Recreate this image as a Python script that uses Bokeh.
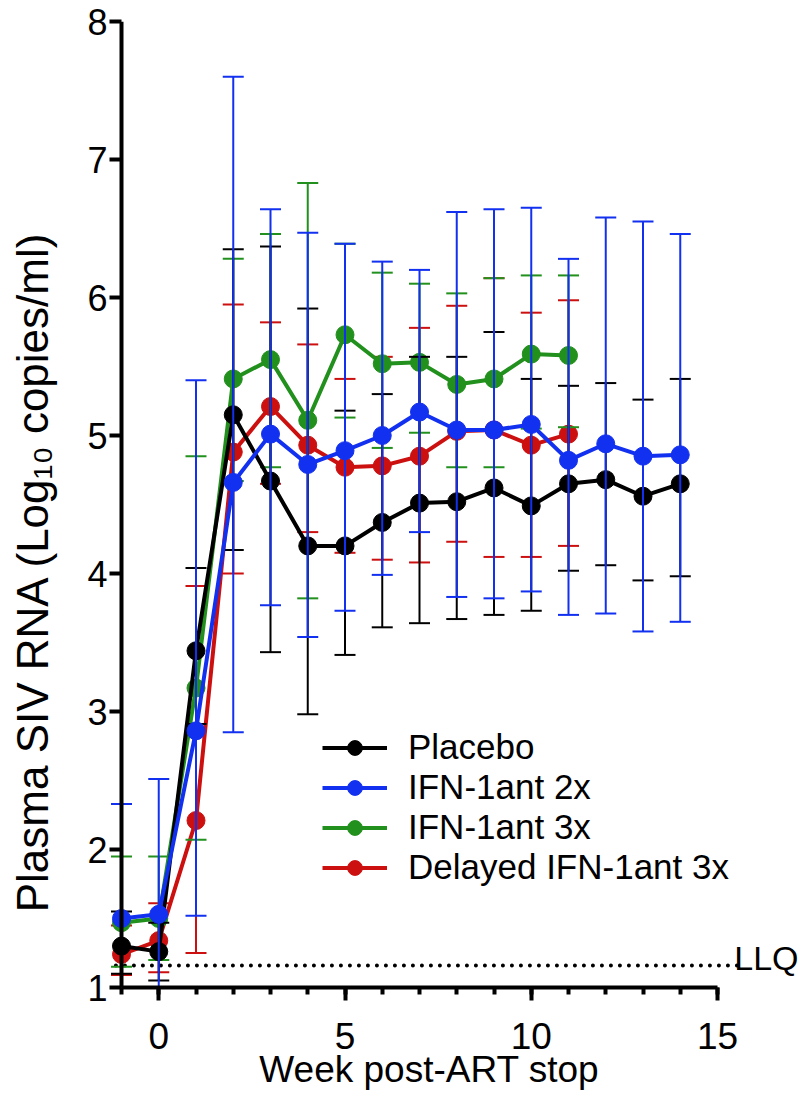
from bokeh.plotting import figure
from bokeh.models import (Range1d, FixedTicker, Span, Label, Legend, LegendItem,
                          ColumnDataSource, LinearAxis)
from bokeh.embed import file_html
from bokeh.resources import INLINE

# ---------------- data ----------------
weeks_all = [-1, 0, 1, 2, 3, 4, 5, 6, 7, 8, 9, 10, 11, 12, 13, 14]
weeks_short = [-1, 0, 1, 2, 3, 4, 5, 6, 7, 8, 9, 10, 11]

placebo_mean = [1.30, 1.26, 3.44, 5.15, 4.67, 4.20, 4.20, 4.37, 4.51, 4.52, 4.62, 4.49, 4.65, 4.68, 4.56, 4.65]
placebo_upper = [1.55, 1.47, 4.04, 6.35, 6.37, 5.92, 5.18, 5.30, 5.57, 5.57, 5.75, 5.41, 5.36, 5.38, 5.26, 5.41]
placebo_lower = [1.10, 1.05, 2.91, 4.17, 3.43, 2.98, 3.41, 3.61, 3.64, 3.67, 3.70, 3.73, 4.02, 4.06, 3.95, 3.98]

ifn2x_mean = [1.50, 1.53, 2.86, 4.66, 5.01, 4.79, 4.89, 5.00, 5.17, 5.04, 5.04, 5.08, 4.82, 4.94, 4.85, 4.86]
ifn2x_upper = [2.33, 2.51, 5.40, 7.60, 6.64, 6.47, 6.39, 6.26, 6.20, 6.62, 6.64, 6.65, 6.28, 6.58, 6.55, 6.46]
ifn2x_lower = [0.67, 0.55, 1.52, 2.85, 3.77, 3.54, 3.73, 3.99, 4.30, 3.83, 3.82, 3.87, 3.70, 3.71, 3.58, 3.65]

ifn3x_mean = [1.47, 1.50, 3.17, 5.41, 5.55, 5.11, 5.73, 5.52, 5.53, 5.37, 5.41, 5.59, 5.58]
ifn3x_upper = [1.95, 1.95, 4.85, 6.28, 6.46, 6.83, 6.39, 6.18, 6.10, 6.03, 6.14, 6.16, 6.16]
ifn3x_lower = [1.15, 1.20, 2.07, 4.67, 4.77, 3.82, 5.13, 4.91, 5.02, 4.77, 4.77, 5.05, 5.06]

delayed_mean = [1.24, 1.34, 2.21, 4.88, 5.21, 4.93, 4.77, 4.78, 4.85, 5.03, 5.04, 4.93, 5.01]
delayed_upper = [1.45, 1.61, 3.91, 5.95, 5.82, 5.66, 5.41, 5.57, 5.78, 5.94, 6.14, 5.89, 5.98]
delayed_lower = [1.09, 1.11, 1.25, 4.00, 4.65, 4.30, 4.15, 4.10, 4.08, 4.23, 4.12, 4.12, 4.20]

series_names = ["Placebo", "IFN-1ant 2x", "IFN-1ant 3x", "Delayed IFN-1ant 3x"]
x_title = "Week post-ART stop"
y_title = "Plasma SIV RNA (Log\u2081\u2080 copies/ml)"
x_major_ticks = [0, 5, 10, 15]
x_minor_ticks = list(range(-1, 16))
y_ticks = [1, 2, 3, 4, 5, 6, 7, 8]
LLQ = 1.16

# ---------------- styling ----------------
BLACK = "#000000"
BLUE = "#1230f0"
GREEN = "#21901c"
RED = "#cc1010"
FONT = "Liberation Sans"
NBSP = "\u00a0"

W, H = 800, 1098
BORDER_L, BORDER_T, BORDER_B = 109, 21, 111
PX_PER_WEEK = 37.25
frame_w = W - BORDER_L
x_start = -1 - 12 / PX_PER_WEEK
x_end = x_start + frame_w / PX_PER_WEEK

p = figure(width=W, height=H, x_range=Range1d(x_start, x_end), y_range=Range1d(1, 8),
           output_backend="svg", toolbar_location=None,
           min_border_left=BORDER_L, min_border_right=0,
           min_border_top=BORDER_T, min_border_bottom=BORDER_B)
p.outline_line_color = None
p.xgrid.visible = False
p.ygrid.visible = False
p.background_fill_color = "white"
p.border_fill_color = "white"

# x axis
xa = p.xaxis[0]
xa.bounds = (-1, 15)
xa.ticker = FixedTicker(ticks=x_major_ticks, minor_ticks=x_minor_ticks)
xa.axis_line_width = 4
xa.axis_line_color = BLACK
xa.major_tick_line_width = 4
xa.minor_tick_line_width = 4
xa.major_tick_out = 13
xa.major_tick_in = 0
xa.minor_tick_out = 7
xa.minor_tick_in = 0
xa.major_label_text_font = FONT
xa.major_label_text_font_size = "37px"
xa.major_label_text_color = BLACK
xa.major_label_standoff = 22
# trailing no-break spaces shift the centred title towards the axis middle
xa.axis_label = x_title + NBSP * 5
xa.axis_label_text_font = FONT
xa.axis_label_text_font_size = "37px"
xa.axis_label_text_font_style = "normal"
xa.axis_label_text_color = BLACK
xa.axis_label_standoff = -3

# y axis: labels and ticks from Bokeh, axis line as a span at week -1
ya = p.yaxis[0]
ya.ticker = FixedTicker(ticks=y_ticks)
ya.axis_line_color = None
ya.major_tick_line_width = 4
ya.major_tick_in = 12
ya.major_tick_out = 0
ya.minor_tick_line_color = None
ya.major_label_text_font = FONT
ya.major_label_text_font_size = "36px"
ya.major_label_text_color = BLACK
ya.major_label_standoff = 2
p.add_layout(Span(location=-1, dimension="height", line_color=BLACK, line_width=4))

# second left axis carrying only the title
ya2 = LinearAxis(ticker=FixedTicker(ticks=[]),
                 axis_line_color=None, major_tick_line_color=None, minor_tick_line_color=None,
                 major_tick_in=0, major_tick_out=0, major_label_standoff=0,
                 axis_label=y_title + NBSP * 11,
                 axis_label_text_font=FONT, axis_label_text_font_size="44px",
                 axis_label_text_font_style="normal", axis_label_text_color=BLACK,
                 axis_label_standoff=28)
p.add_layout(ya2, "left")

# LLQ line
p.line(x=[-1.15, 15.6], y=[LLQ, LLQ], line_color=BLACK, line_width=4,
       line_dash="0 9", line_cap="round")
p.add_layout(Label(x=15.45, y=LLQ + 0.055, text="LLQ", text_font=FONT,
                   text_font_size="34px", text_color=BLACK, text_baseline="alphabetic"))

# ---------------- series ----------------
def draw(weeks, mean, upper, lower, color, bars_on_top=False):
    src = ColumnDataSource(dict(x=weeks, y=mean, up=upper, lo=lower))

    def bars():
        p.segment(x0="x", y0="lo", x1="x", y1="up", source=src,
                  line_color=color, line_width=2)
        p.scatter(x="x", y="up", marker="dash", size=21, line_color=color,
                  line_width=2, source=src)
        p.scatter(x="x", y="lo", marker="dash", size=21, line_color=color,
                  line_width=2, source=src)

    if not bars_on_top:
        bars()
    lr = p.line(x="x", y="y", source=src, line_color=color, line_width=4, line_join="round")
    dr = p.scatter(x="x", y="y", source=src, marker="circle", size=18,
                   fill_color=color, line_color=color, line_width=1)
    if bars_on_top:
        bars()
    return lr, dr

r_delayed = draw(weeks_short, delayed_mean, delayed_upper, delayed_lower, RED)
r_3x = draw(weeks_short, ifn3x_mean, ifn3x_upper, ifn3x_lower, GREEN)
r_placebo = draw(weeks_all, placebo_mean, placebo_upper, placebo_lower, BLACK)
r_2x = draw(weeks_all, ifn2x_mean, ifn2x_upper, ifn2x_lower, BLUE, bars_on_top=True)

legend = Legend(items=[
    LegendItem(label=series_names[0], renderers=list(r_placebo)),
    LegendItem(label=series_names[1], renderers=list(r_2x)),
    LegendItem(label=series_names[2], renderers=list(r_3x)),
    LegendItem(label=series_names[3], renderers=list(r_delayed)),
], location=(213, 100), glyph_width=65, glyph_height=37, spacing=0, padding=0,
    margin=0, label_standoff=21, label_text_font=FONT, label_text_font_size="35px",
    label_text_color=BLACK, border_line_color=None, background_fill_alpha=0)
p.add_layout(legend)

open("out.html", "w").write(file_html(p, INLINE))
